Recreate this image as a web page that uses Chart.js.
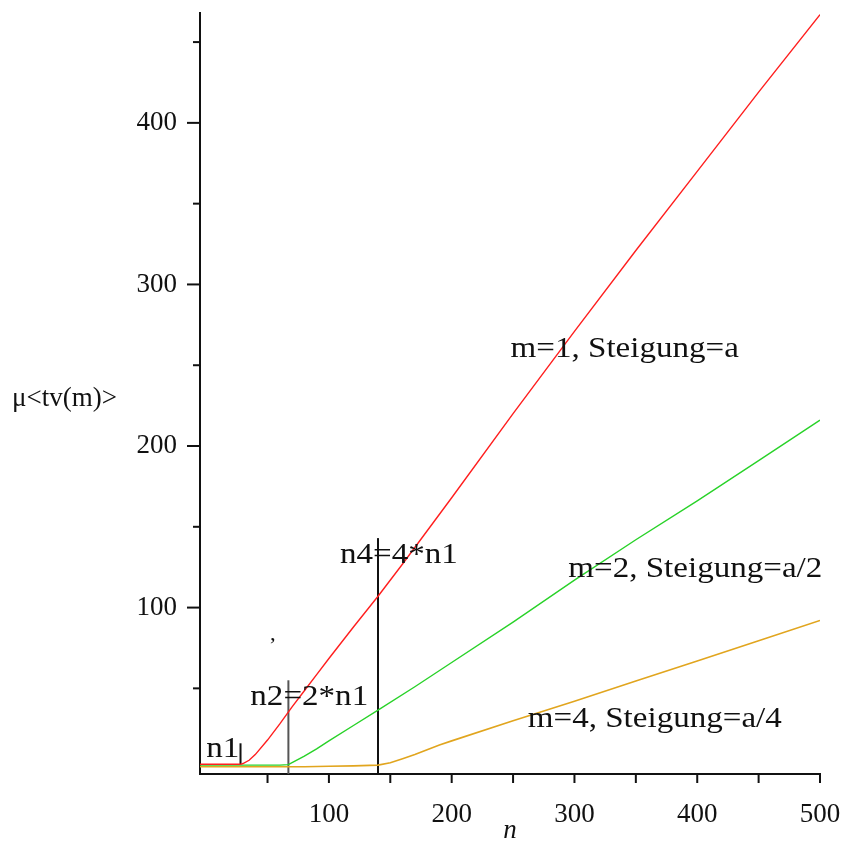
<!DOCTYPE html>
<html>
<head>
<meta charset="utf-8">
<script src="https://cdn.jsdelivr.net/npm/chart.js@4/dist/chart.umd.min.js"></script>
<style>
  body { margin: 0; background: #fff; }
  canvas { display: block; }
</style>
</head>
<body>
<canvas id="tvChart" width="843" height="843"></canvas>
<script>
// values
const redN = [-5, 10, 20, 28, 30, 35, 40, 50, 60, 70, 80, 90, 100, 120, 140, 160, 200, 250, 300, 350, 400, 450, 500];
const redV = [3, 3, 3, 3, 3.5, 5.5, 9, 18, 28, 38.5, 48.5, 58.5, 68.5, 88, 107, 127, 168, 220, 271, 321, 370, 419, 467];

const greenN = [-5, 20, 40, 60, 67, 70, 80, 90, 100, 120, 140, 170, 200, 250, 300, 350, 400, 450, 500];
const greenV = [2.5, 2.5, 2.5, 2.5, 2.8, 4, 8, 12.5, 17.5, 27, 36.5, 51, 66, 91, 117, 142, 166, 191, 216];

const orangeN = [-5, 40, 80, 100, 120, 140, 150, 160, 170, 180, 190, 200, 250, 300, 350, 400, 450, 500];
const orangeV = [1.5, 1.5, 1.5, 1.8, 2, 2.5, 4, 6.5, 9, 12, 15, 17.5, 30, 42, 54.5, 67, 79.5, 92];

// vertical markers n1, n2, n4
const markerN = [28, 67, 140];
const markerLow = [3, -3, -3];
const markerHigh = [16, 55, 143];
const markerColors = ['#111', '#555', '#111'];

// text labels (anchored at left/baseline in data units)
const labelTexts = ['m=1, Steigung=a', 'm=2, Steigung=a/2', 'm=4, Steigung=a/4', 'n4=4*n1', 'n2=2*n1', 'n1', ','];
const labelN = [248, 295, 262, 109, 36, 0, 52];
const labelV = [255, 119, 26, 127.5, 40, 7.5, 80];

const xTicks = [100, 200, 300, 400, 500];
const yTicks = [100, 200, 300, 400];

function toPoints(ns, vs) {
    return ns.map((n, i) => ({ x: n, y: vs[i] }));
}

const datasets = [
    { data: toPoints(redN, redV), borderColor: 'rgb(255,30,30)', borderWidth: 1.4 },
    { data: toPoints(greenN, greenV), borderColor: 'rgb(40,210,40)', borderWidth: 1.4 },
    { data: toPoints(orangeN, orangeV), borderColor: 'rgb(225,165,30)', borderWidth: 1.6 },
];
markerN.forEach((n, i) => {
    datasets.push({
        data: [{ x: n, y: markerLow[i] }, { x: n, y: markerHigh[i] }],
        borderColor: markerColors[i],
        borderWidth: 2,
    });
});

const serif = '"Liberation Serif", "Times New Roman", serif';

const overlay = {
    id: 'overlay',
    afterDraw(chart) {
        const { ctx, chartArea, scales: { x, y } } = chart;
        ctx.save();
        ctx.strokeStyle = '#111';
        ctx.lineWidth = 2;
        // tick marks, every 50, longer on labelled y ticks
        x.ticks.forEach(t => {
            if (t.value <= 0) return;
            const px = x.getPixelForValue(t.value);
            ctx.beginPath();
            ctx.moveTo(px, chartArea.bottom);
            ctx.lineTo(px, chartArea.bottom + 9);
            ctx.stroke();
        });
        y.ticks.forEach(t => {
            if (t.value <= 0) return;
            const py = y.getPixelForValue(t.value);
            const len = t.value % 100 === 0 ? 13 : 7;
            ctx.beginPath();
            ctx.moveTo(chartArea.left, py);
            ctx.lineTo(chartArea.left - len, py);
            ctx.stroke();
        });

        // annotations
        ctx.fillStyle = '#111';
        ctx.textBaseline = 'alphabetic';
        ctx.textAlign = 'left';
        labelTexts.forEach((s, i) => {
            ctx.save();
            ctx.translate(x.getPixelForValue(labelN[i]), y.getPixelForValue(labelV[i]));
            ctx.scale(1.14, 1);
            ctx.font = (s === ',' ? '20px ' : '29px ') + serif;
            ctx.fillText(s, 0, 0);
            ctx.restore();
        });

        // axis titles
        ctx.font = '27px ' + serif;
        ctx.textBaseline = 'middle';
        ctx.fillText('\u03bc<tv(m)>', 12, 399);
        ctx.font = 'italic 27px ' + serif;
        ctx.textAlign = 'center';
        ctx.textBaseline = 'alphabetic';
        ctx.fillText('n', (chartArea.left + chartArea.right) / 2, 838);
        ctx.restore();
    }
};

const ctx = document.getElementById('tvChart').getContext('2d');
const tvChart = new Chart(ctx, {
    type: 'line',
    data: { datasets: datasets },
    options: {
        responsive: false,
        animation: false,
        layout: { padding: { left: 0, right: 23, top: 13, bottom: 0 } },
        elements: {
            point: { radius: 0 },
            line: { tension: 0, fill: false },
        },
        plugins: {
            legend: { display: false },
            tooltip: { enabled: false },
        },
        scales: {
            x: {
                type: 'linear',
                min: -5,
                max: 500,
                afterFit: scale => {
                    scale.height = 69;
                    scale.paddingLeft = 0;
                    scale.paddingRight = 0;
                },
                border: { display: true, color: '#111', width: 2 },
                grid: { display: true, drawOnChartArea: false, drawTicks: false },
                ticks: {
                    stepSize: 50,
                    includeBounds: false,
                    maxRotation: 0,
                    autoSkip: false,
                    padding: 25,
                    color: '#111',
                    font: { family: serif, size: 27 },
                    callback: v => (xTicks.includes(v) ? String(v) : ''),
                },
            },
            y: {
                type: 'linear',
                min: -3,
                max: 468,
                afterFit: scale => {
                    scale.width = 200;
                    scale.paddingTop = 0;
                    scale.paddingBottom = 0;
                },
                border: { display: true, color: '#111', width: 2 },
                grid: { display: true, drawOnChartArea: false, drawTicks: false },
                ticks: {
                    stepSize: 50,
                    includeBounds: false,
                    autoSkip: false,
                    padding: 23,
                    color: '#111',
                    font: { family: serif, size: 27 },
                    callback: v => (yTicks.includes(v) ? String(v) : ''),
                },
            },
        },
    },
    plugins: [overlay],
});
</script>
</body>
</html>
